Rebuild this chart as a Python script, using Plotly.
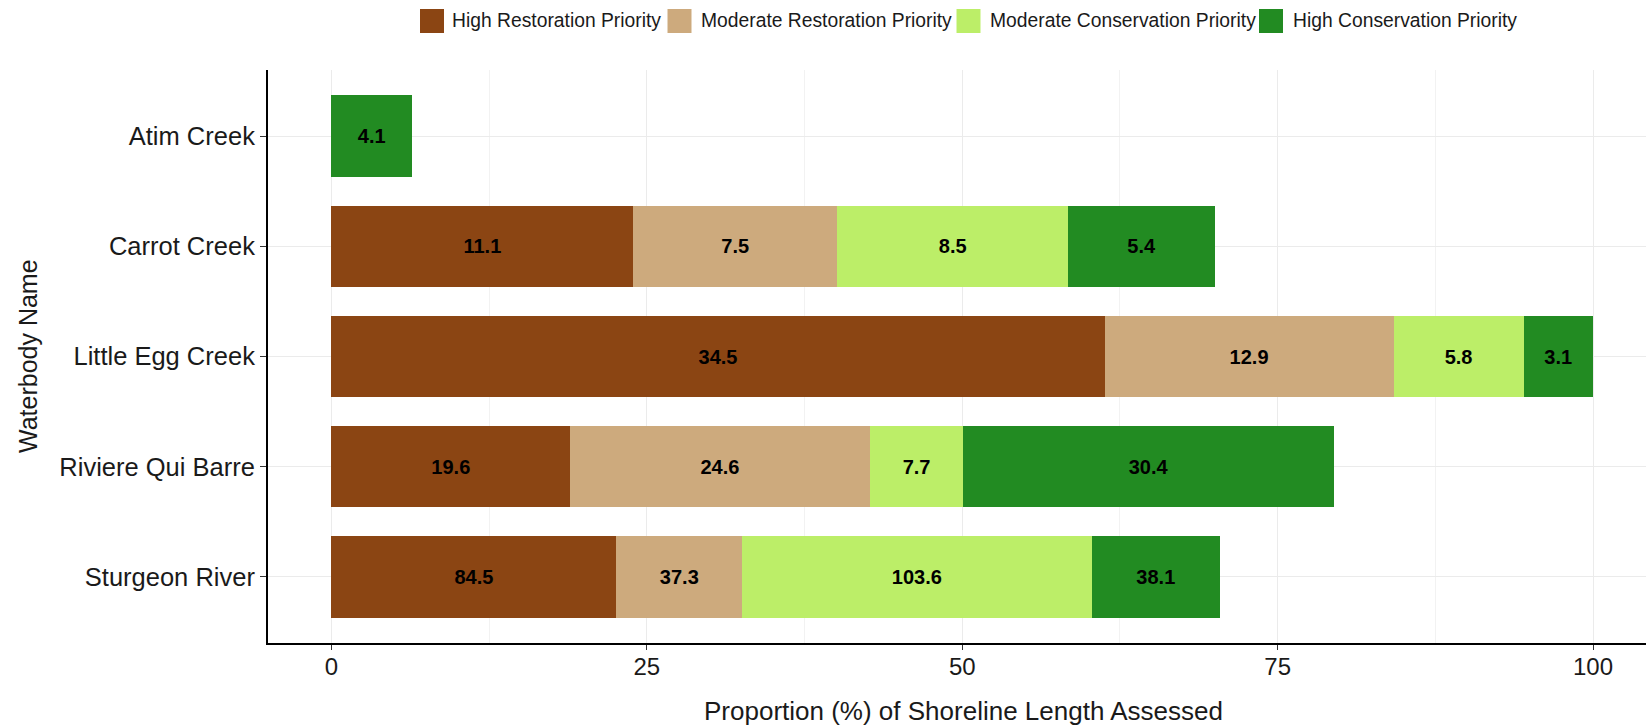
import plotly.graph_objects as go

# Waterbodies (top to bottom) and priority classes
waterbodies = ["Atim Creek", "Carrot Creek", "Little Egg Creek", "Riviere Qui Barre", "Sturgeon River"]
priorities = [
    "High Restoration Priority",
    "Moderate Restoration Priority",
    "Moderate Conservation Priority",
    "High Conservation Priority",
]
colors = ["#8B4513", "#CDAA7D", "#BCEE68", "#228B22"]

# Shoreline length (km) in each priority class; None where the class is absent
high_restoration = [None, 11.1, 34.5, 19.6, 84.5]
moderate_restoration = [None, 7.5, 12.9, 24.6, 37.3]
moderate_conservation = [None, 8.5, 5.8, 7.7, 103.6]
high_conservation = [4.1, 5.4, 3.1, 30.4, 38.1]

# Total shoreline length assessed per waterbody (km)
total_assessed = [64.2, 46.4, 56.3, 103.6, 374.1]

series = [high_restoration, moderate_restoration, moderate_conservation, high_conservation]

W, H = 1646, 726
M_L, M_R, M_T, M_B = 268, 0, 70, 83
PLOT_W = W - M_L - M_R
PLOT_H = H - M_T - M_B


def px_x(px):
    return (px - M_L) / PLOT_W


def px_y(py):
    return (H - M_B - py) / PLOT_H


FONT = "Arial, 'Liberation Sans', sans-serif"
LABEL_FONT = "'Liberation Sans Narrow', 'Arial Narrow', Arial, 'Liberation Sans', sans-serif"

fig = go.Figure()
for name, color, lengths in zip(priorities, colors, series):
    pct = [None if v is None else v / t * 100 for v, t in zip(lengths, total_assessed)]
    text = ["" if v is None else f"{v:.1f}" for v in lengths]
    fig.add_trace(go.Bar(
        y=waterbodies,
        x=pct,
        orientation="h",
        name=name,
        marker=dict(color=color, line=dict(width=0)),
        width=0.74,
        text=text,
        textposition="inside",
        insidetextanchor="middle",
        constraintext="none",
        textangle=0,
        textfont=dict(family=LABEL_FONT, size=20, color="black", weight="bold"),
        showlegend=False,
    ))

fig.update_layout(
    width=W,
    height=H,
    margin=dict(l=M_L, r=M_R, t=M_T, b=M_B, autoexpand=False),
    barmode="stack",
    plot_bgcolor="white",
    paper_bgcolor="white",
    font=dict(family=FONT, color="#1a1a1a"),
    xaxis=dict(
        range=[-5.03, 104.2],
        tickvals=[0, 25, 50, 75, 100],
        ticks="outside",
        ticklen=5,
        tickwidth=1.3,
        tickcolor="#333333",
        tickfont=dict(size=24, color="#1a1a1a"),
        ticklabelstandoff=-4,
        showline=True,
        linecolor="black",
        linewidth=2,
        showgrid=True,
        gridcolor="#EBEBEB",
        gridwidth=1.3,
        minor=dict(tickvals=[12.5, 37.5, 62.5, 87.5], showgrid=True, gridcolor="#F2F2F2", gridwidth=1),
        zeroline=False,
    ),
    yaxis=dict(
        categoryorder="array",
        categoryarray=waterbodies,
        range=[4.6, -0.6],
        ticks="outside",
        ticklen=6,
        tickwidth=1.3,
        tickcolor="#333333",
        tickfont=dict(size=25.5, color="#1a1a1a"),
        showline=True,
        linecolor="black",
        linewidth=2,
        showgrid=True,
        gridcolor="#EBEBEB",
        gridwidth=1.3,
        zeroline=False,
    ),
)

# Axis titles
fig.add_annotation(
    text="Proportion (%) of Shoreline Length Assessed",
    xref="paper", yref="paper",
    x=px_x(963), y=px_y(711),
    xanchor="center", yanchor="middle",
    showarrow=False,
    font=dict(family=FONT, size=26, color="#1a1a1a"),
)
fig.add_annotation(
    text="Waterbody Name",
    xref="paper", yref="paper",
    x=px_x(28), y=px_y(356),
    xanchor="center", yanchor="middle",
    textangle=-90,
    showarrow=False,
    font=dict(family=FONT, size=25, color="#1a1a1a"),
)

# Legend across the top: colour key squares with their labels
key_left = [420, 667.5, 956.5, 1259]
text_left = [450, 699, 987.5, 1290.5]
legend_y = 21
key_size = 24
for name, color, kx, tx in zip(priorities, colors, key_left, text_left):
    fig.add_shape(
        type="rect",
        xref="paper", yref="paper",
        x0=px_x(kx), x1=px_x(kx + key_size),
        y0=px_y(legend_y + key_size / 2), y1=px_y(legend_y - key_size / 2),
        fillcolor=color,
        line=dict(width=0),
        layer="above",
    )
    fig.add_annotation(
        text=name,
        xref="paper", yref="paper",
        x=px_x(tx), y=px_y(legend_y),
        xanchor="left", yanchor="middle",
        showarrow=False,
        font=dict(family=FONT, size=19.3, color="#1a1a1a"),
    )

fig.write_html("out.html")
